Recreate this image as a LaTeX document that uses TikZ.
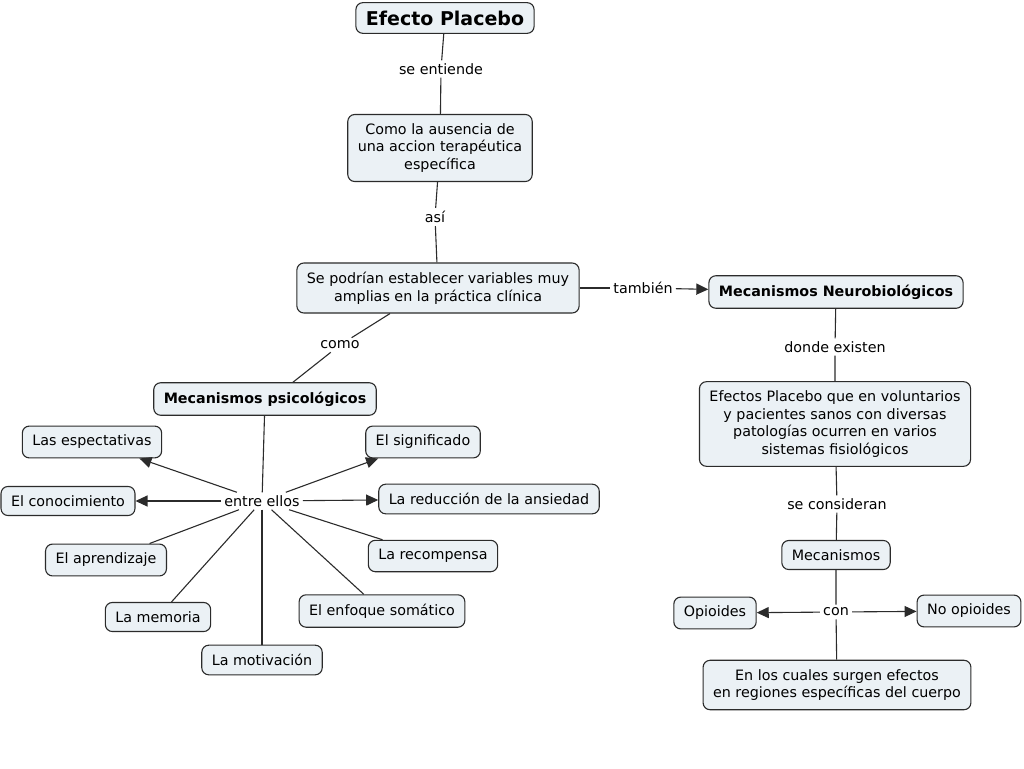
\documentclass[tikz,border=0pt]{standalone}
\usepackage{fontspec}
\setmainfont{DejaVu Sans}
\usetikzlibrary{arrows.meta,calc}
\definecolor{boxfill}{HTML}{EBF1F5}
\definecolor{boxline}{HTML}{2B2B2B}
\tikzset{
  concept/.style={draw=boxline, fill=boxfill, rounded corners=7pt, line width=1.1pt,
    align=center, inner xsep=10pt, inner ysep=9pt, font=\fontsize{14.3}{17.6}\selectfont},
  link/.style={fill=white, inner sep=3pt, font=\fontsize{14.3}{17.6}\selectfont},
  conn/.style={draw=boxline, line width=1.1pt},
  arr/.style={conn, -{Triangle[length=12pt,width=11pt]}}
}
\begin{document}
\begin{tikzpicture}[x=1pt,y=-1pt]
\useasboundingbox (0,0) rectangle (1024,768);
% main chain
\node[concept, font=\bfseries\fontsize{19}{21}\selectfont, inner ysep=8pt] (efecto) at (445,18) {Efecto Placebo};
\node[link] (entiende) at (441,69) {se entiende};
\node[concept] (ausencia) at (440,148) {Como la ausencia de\\una accion terapéutica\\específica};
\node[link] (asi) at (435,217) {así};
\node[concept] (variables) at (438,288) {Se podrían establecer variables muy\\amplias en la práctica clínica};
\node[link] (tambien) at (643,288) {también};
\node[concept, font=\bfseries\fontsize{14.3}{17.6}\selectfont] (neuro) at (836,292) {Mecanismos Neurobiológicos};
\node[link] (como) at (340,345) {como};
\node[concept, font=\bfseries\fontsize{14.3}{17.6}\selectfont] (psico) at (265,399) {Mecanismos psicológicos};
% psychological branch
\node[link] (entre) at (262,501) {entre ellos};
\node[concept] (espect) at (92,442) {Las espectativas};
\node[concept] (conoc) at (68,501) {El conocimiento};
\node[concept] (aprend) at (106,560) {El aprendizaje};
\node[concept] (memoria) at (158,617) {La memoria};
\node[concept] (motiv) at (262,660) {La motivación};
\node[concept] (signif) at (423,442) {El significado};
\node[concept] (reduc) at (489,499) {La reducción de la ansiedad};
\node[concept] (recomp) at (433,556) {La recompensa};
\node[concept] (enfoque) at (382,611) {El enfoque somático};
% neurobiological branch
\node[link] (donde) at (835,347) {donde existen};
\node[concept] (efectos) at (835,424) {Efectos Placebo que en voluntarios\\y pacientes sanos con diversas\\patologías ocurren en varios\\sistemas fisiológicos};
\node[link] (consid) at (837,504) {se consideran};
\node[concept] (mecan) at (836,555) {Mecanismos};
\node[link] (con) at (836,612) {con};
\node[concept] (opio) at (715,613) {Opioides};
\node[concept] (noopio) at (969,611) {No opioides};
\node[concept] (cuales) at (837,685) {En los cuales surgen efectos\\en regiones específicas del cuerpo};

\draw[conn] (efecto) -- (entiende) -- (ausencia);
\draw[conn] (ausencia) -- (asi) -- (variables);
\draw[conn] (variables) -- (tambien);
\draw[arr] (tambien) -- (neuro);
\draw[conn] ($(variables.south)+(-48,0)$) -- (como) -- ($(psico.north)+(28,0)$);
\draw[conn] (psico) -- (entre);
\draw[arr] (entre) -- (espect);
\draw[arr] (entre) -- (conoc);
\draw[arr] (entre) -- (signif);
\draw[arr] (entre) -- (reduc);
\foreach \n in {aprend,memoria,motiv,recomp,enfoque}
  \draw[conn] (entre) -- (\n);
\draw[conn] (neuro) -- (donde) -- (efectos);
\draw[conn] (efectos) -- (consid) -- (mecan);
\draw[conn] (mecan) -- (con) -- (cuales);
\draw[arr] (con) -- (opio);
\draw[arr] (con) -- (noopio);
\end{tikzpicture}
\end{document}
